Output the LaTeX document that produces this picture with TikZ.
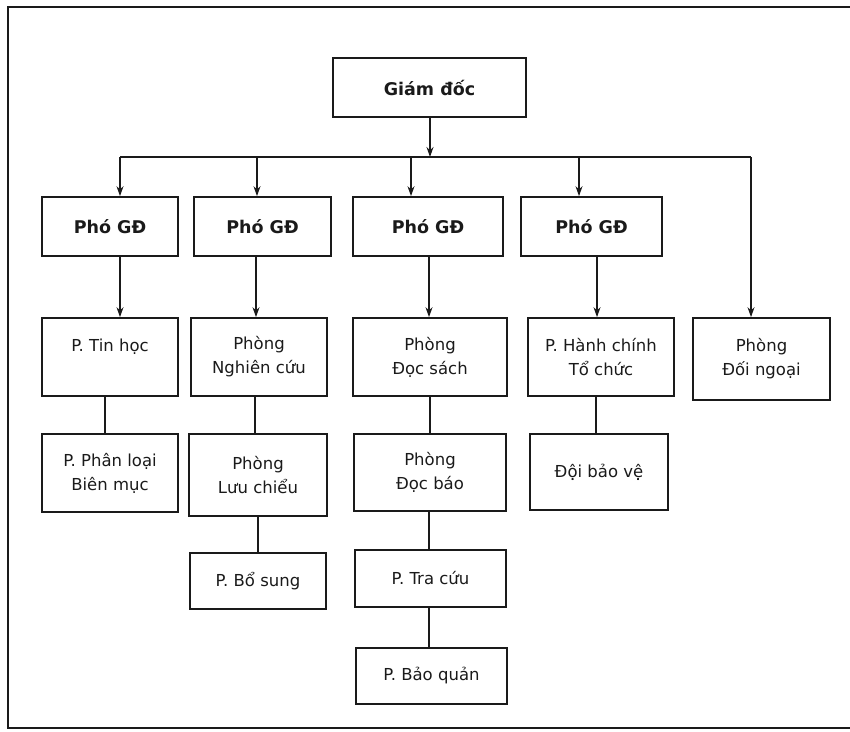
\documentclass[tikz,border=0pt]{standalone}
\usepackage{fontspec}
\setmainfont{DejaVu Sans}
\usepackage{tikz}
\usetikzlibrary{arrows.meta}
\definecolor{muc}{HTML}{1A1A1A}
\tikzset{
  khung/.style={draw=muc,line width=1.7pt,inner sep=0pt,align=center,text=muc,font=\fontsize{16.5}{24}\selectfont},
  khungdam/.style={khung,font=\fontsize{17.5}{24}\selectfont\bfseries},
  muiten/.style={draw=muc,line width=1.4pt,-{Stealth[length=10pt,width=7pt]}},
  noi/.style={draw=muc,line width=1.4pt},
  vien/.style={draw=muc,line width=1.3pt},
}
\begin{document}
\begin{tikzpicture}[x=1pt,y=-1pt]
\useasboundingbox (0,0) rectangle (850,731);
\draw[vien] (850,7) -- (8,7) -- (8,728) -- (850,728);
\coordinate (bgd) at (430,157);
\coordinate (b1) at (120,157);
\coordinate (b2) at (257,157);
\coordinate (b3) at (411,157);
\coordinate (b4) at (579,157);
\coordinate (b5) at (751,157);
\node[khungdam,minimum width=193pt,minimum height=59pt] (gd) at (429.5,87.5) {Giám đốc};
\node[khungdam,minimum width=136pt,minimum height=59pt] (pgd1) at (110,226.5) {Phó GĐ};
\node[khungdam,minimum width=137pt,minimum height=59pt] (pgd2) at (262.5,226.5) {Phó GĐ};
\node[khungdam,minimum width=150pt,minimum height=59pt] (pgd3) at (428,226.5) {Phó GĐ};
\node[khungdam,minimum width=141pt,minimum height=59pt] (pgd4) at (591.5,226.5) {Phó GĐ};
\node[khung,minimum width=136pt,minimum height=78pt] (tinhoc) at (110,357) {P. Tin học\\\mbox{}};
\node[khung,minimum width=136pt,minimum height=78pt] (nghiencuu) at (259,357) {Phòng\\Nghiên cứu};
\node[khung,minimum width=154pt,minimum height=78pt] (docsach) at (430,357) {Phòng\\Đọc sách};
\node[khung,minimum width=146pt,minimum height=78pt] (hanhchinh) at (601,357) {P. Hành chính\\Tổ chức};
\node[khung,minimum width=137pt,minimum height=82pt] (doingoai) at (761.5,359) {Phòng\\Đối ngoại};
\node[khung,minimum width=136pt,minimum height=78pt] (phanloai) at (110,473) {P. Phân loại\\Biên mục};
\node[khung,minimum width=138pt,minimum height=82pt] (luuchieu) at (258,475) {Phòng\\Lưu chiểu};
\node[khung,minimum width=152pt,minimum height=77pt] (docbao) at (430,472.5) {Phòng\\Đọc báo};
\node[khung,minimum width=138pt,minimum height=76pt] (baove) at (599,472) {Đội bảo vệ};
\node[khung,minimum width=136pt,minimum height=56pt] (bosung) at (258,581) {P. Bổ sung};
\node[khung,minimum width=151pt,minimum height=57pt] (tracuu) at (430.5,578.5) {P. Tra cứu};
\node[khung,minimum width=151pt,minimum height=56pt] (baoquan) at (431.5,676) {P. Bảo quản};
\draw[muiten] (gd.south -| bgd) -- (bgd);
\draw[noi] (b1) -- (b5);
\draw[muiten] (b1) -- (b1 |- pgd1.north);
\draw[muiten] (b2) -- (b2 |- pgd2.north);
\draw[muiten] (b3) -- (b3 |- pgd3.north);
\draw[muiten] (b4) -- (b4 |- pgd4.north);
\draw[muiten] (b5) -- (b5 |- doingoai.north);
\draw[muiten] ([xshift=10pt]pgd1.south) -- ([xshift=10pt]pgd1.south |- tinhoc.north);
\draw[muiten] ([xshift=-6.5pt]pgd2.south) -- ([xshift=-6.5pt]pgd2.south |- nghiencuu.north);
\draw[muiten] ([xshift=1pt]pgd3.south) -- ([xshift=1pt]pgd3.south |- docsach.north);
\draw[muiten] ([xshift=5.5pt]pgd4.south) -- ([xshift=5.5pt]pgd4.south |- hanhchinh.north);
\draw[noi] ([xshift=-5pt]tinhoc.south) -- ([xshift=-5pt]tinhoc.south |- phanloai.north);
\draw[noi] ([xshift=-4pt]nghiencuu.south) -- ([xshift=-4pt]nghiencuu.south |- luuchieu.north);
\draw[noi] (docsach) -- (docbao);
\draw[noi] ([xshift=-5pt]hanhchinh.south) -- ([xshift=-5pt]hanhchinh.south |- baove.north);
\draw[noi] (luuchieu) -- (bosung);
\draw[noi] ([xshift=-1pt]docbao.south) -- ([xshift=-1pt]docbao.south |- tracuu.north);
\draw[noi] ([xshift=-1.5pt]tracuu.south) -- ([xshift=-1.5pt]tracuu.south |- baoquan.north);
\end{tikzpicture}
\end{document}
